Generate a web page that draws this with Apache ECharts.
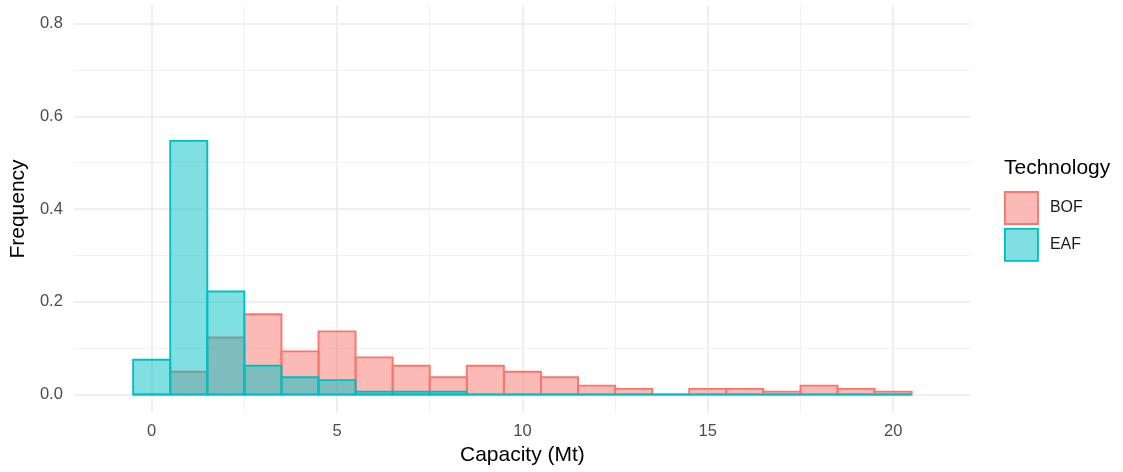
<!DOCTYPE html>
<html>
<head>
<meta charset="utf-8">
<title>Capacity histogram by technology</title>
<script src="https://cdn.jsdelivr.net/npm/echarts@6/dist/echarts.min.js"></script>
<style>
  html, body { margin: 0; padding: 0; background: #ffffff; }
  #chart { width: 1123px; height: 472px; }
</style>
</head>
<body>
<div id="chart"></div>
<script>
// Bin centres (capacity, Mt); every bin is 1 Mt wide
const bins = [0, 1, 2, 3, 4, 5, 6, 7, 8, 9, 10, 11, 12, 13, 14, 15, 16, 17, 18, 19, 20];
// Relative frequency of plants per bin
const bofFreq = [0, 0.049, 0.123, 0.173, 0.093, 0.136, 0.080, 0.062, 0.037, 0.062, 0.049,
                 0.037, 0.019, 0.012, 0, 0.012, 0.012, 0.006, 0.019, 0.012, 0.006];
const eafFreq = [0.075, 0.547, 0.222, 0.062, 0.037, 0.031, 0.006, 0.006, 0.006, 0, 0,
                 0, 0, 0, 0, 0, 0, 0, 0, 0, 0];
const technologies = ['BOF', 'EAF'];
const binWidth = 1;

const FONT = '"Liberation Sans", Arial, Helvetica, sans-serif';
const palette = {
  BOF: { stroke: '#F8766D', fill: 'rgba(248,118,109,0.5)' },
  EAF: { stroke: '#00BFC4', fill: 'rgba(0,191,196,0.5)' }
};
const OUTLINE = 1.9;

function histSeries(name, values) {
  const c = palette[name];
  return {
    name: name,
    type: 'custom',
    itemStyle: { color: c.fill, borderColor: c.stroke, borderWidth: OUTLINE },
    data: bins.map((b, i) => [b, values[i]]),
    encode: { x: 0, y: 1 },
    renderItem: function (params, api) {
      const x = api.value(0);
      const y = api.value(1);
      const topLeft = api.coord([x - binWidth / 2, y]);
      const bottomRight = api.coord([x + binWidth / 2, 0]);
      return {
        type: 'rect',
        shape: {
          x: topLeft[0],
          y: topLeft[1],
          width: bottomRight[0] - topLeft[0],
          height: bottomRight[1] - topLeft[1]
        },
        style: { fill: c.fill, stroke: c.stroke, lineWidth: OUTLINE }
      };
    }
  };
}

const gridLine = { show: true, lineStyle: { color: '#EBEBEB', width: 1.6 }, showMinLine: false, showMaxLine: false };
const minorGridLine = { show: true, lineStyle: { color: '#EFEFEF', width: 0.9 } };

const chart = echarts.init(document.getElementById('chart'), null, { renderer: 'canvas' });
chart.setOption({
  backgroundColor: '#ffffff',
  animation: false,
  textStyle: { fontFamily: FONT },
  title: {
    text: 'Technology',
    left: 1004,
    top: 158,
    padding: 0,
    textStyle: { fontFamily: FONT, fontSize: 21, fontWeight: 'normal', color: '#000000' }
  },
  legend: {
    orient: 'vertical',
    left: 1004,
    top: 191,
    padding: 0,
    itemWidth: 33,
    itemHeight: 32,
    itemGap: 3,
    icon: 'rect',
    selectedMode: false,
    textStyle: { fontFamily: FONT, fontSize: 16, color: '#1A1A1A', padding: [0, 0, 0, 7] },
    data: technologies.map(t => ({
      name: t,
      itemStyle: { color: palette[t].fill, borderColor: palette[t].stroke, borderWidth: OUTLINE }
    }))
  },
  grid: { left: 73, right: 152, top: 5, bottom: 59, containLabel: false },
  xAxis: {
    type: 'value',
    min: -2.1,
    max: 22.1,
    splitNumber: 5,
    name: 'Capacity (Mt)',
    nameLocation: 'middle',
    nameGap: 32,
    nameTextStyle: { fontFamily: FONT, fontSize: 21, color: '#000000' },
    axisLine: { show: false },
    axisTick: { show: false },
    axisLabel: { margin: 10, fontFamily: FONT, fontSize: 16.5, color: '#4D4D4D', showMinLabel: false, showMaxLabel: false },
    splitLine: gridLine,
    minorTick: { show: false, splitNumber: 2 },
    minorSplitLine: minorGridLine
  },
  yAxis: {
    type: 'value',
    min: -0.04,
    max: 0.84,
    splitNumber: 5,
    name: 'Frequency',
    nameLocation: 'middle',
    nameGap: 40,
    nameTextStyle: { fontFamily: FONT, fontSize: 21, color: '#000000' },
    axisLine: { show: false },
    axisTick: { show: false },
    axisLabel: {
      margin: 11, fontFamily: FONT, fontSize: 16.5, color: '#4D4D4D',
      showMinLabel: false, showMaxLabel: false,
      formatter: v => v.toFixed(1)
    },
    splitLine: gridLine,
    minorTick: { show: false, splitNumber: 2 },
    minorSplitLine: minorGridLine
  },
  series: [histSeries('BOF', bofFreq), histSeries('EAF', eafFreq)]
});
</script>
</body>
</html>
